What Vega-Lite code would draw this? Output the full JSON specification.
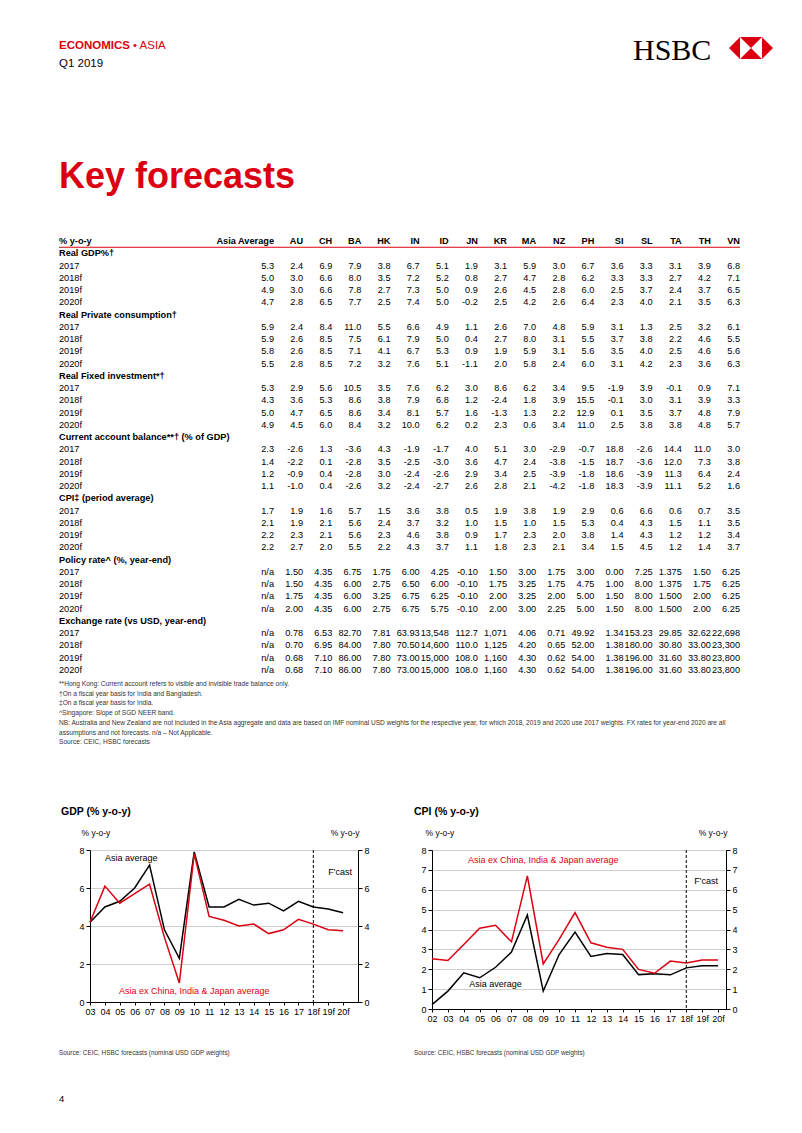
{
"$schema": "https://vega.github.io/schema/vega-lite/v6.json",
"background": "white",
"padding": {"left": 58, "top": 36, "right": 0, "bottom": 0},
"bounds": "full",
"spacing": 0,
"config": {"font": "Liberation Sans", "view": {"stroke": null}, "concat": {"spacing": 0}},
"datasets": {
"cols": [{"c":"Asia Average"},{"c":"AU"},{"c":"CH"},{"c":"BA"},{"c":"HK"},{"c":"IN"},{"c":"ID"},{"c":"JN"},{"c":"KR"},{"c":"MA"},{"c":"NZ"},{"c":"PH"},{"c":"SI"},{"c":"SL"},{"c":"TA"},{"c":"TH"},{"c":"VN"}],
"tab": [
{"r":0,"label":"% y-o-y"},
{"r":1,"label":"Real GDP%†"},
{"r":2,"label":"2017","Asia Average":"5.3","AU":"2.4","CH":"6.9","BA":"7.9","HK":"3.8","IN":"6.7","ID":"5.1","JN":"1.9","KR":"3.1","MA":"5.9","NZ":"3.0","PH":"6.7","SI":"3.6","SL":"3.3","TA":"3.1","TH":"3.9","VN":"6.8"},
{"r":3,"label":"2018f","Asia Average":"5.0","AU":"3.0","CH":"6.6","BA":"8.0","HK":"3.5","IN":"7.2","ID":"5.2","JN":"0.8","KR":"2.7","MA":"4.7","NZ":"2.8","PH":"6.2","SI":"3.3","SL":"3.3","TA":"2.7","TH":"4.2","VN":"7.1"},
{"r":4,"label":"2019f","Asia Average":"4.9","AU":"3.0","CH":"6.6","BA":"7.8","HK":"2.7","IN":"7.3","ID":"5.0","JN":"0.9","KR":"2.6","MA":"4.5","NZ":"2.8","PH":"6.0","SI":"2.5","SL":"3.7","TA":"2.4","TH":"3.7","VN":"6.5"},
{"r":5,"label":"2020f","Asia Average":"4.7","AU":"2.8","CH":"6.5","BA":"7.7","HK":"2.5","IN":"7.4","ID":"5.0","JN":"-0.2","KR":"2.5","MA":"4.2","NZ":"2.6","PH":"6.4","SI":"2.3","SL":"4.0","TA":"2.1","TH":"3.5","VN":"6.3"},
{"r":6,"label":"Real Private consumption†"},
{"r":7,"label":"2017","Asia Average":"5.9","AU":"2.4","CH":"8.4","BA":"11.0","HK":"5.5","IN":"6.6","ID":"4.9","JN":"1.1","KR":"2.6","MA":"7.0","NZ":"4.8","PH":"5.9","SI":"3.1","SL":"1.3","TA":"2.5","TH":"3.2","VN":"6.1"},
{"r":8,"label":"2018f","Asia Average":"5.9","AU":"2.6","CH":"8.5","BA":"7.5","HK":"6.1","IN":"7.9","ID":"5.0","JN":"0.4","KR":"2.7","MA":"8.0","NZ":"3.1","PH":"5.5","SI":"3.7","SL":"3.8","TA":"2.2","TH":"4.6","VN":"5.5"},
{"r":9,"label":"2019f","Asia Average":"5.8","AU":"2.6","CH":"8.5","BA":"7.1","HK":"4.1","IN":"6.7","ID":"5.3","JN":"0.9","KR":"1.9","MA":"5.9","NZ":"3.1","PH":"5.6","SI":"3.5","SL":"4.0","TA":"2.5","TH":"4.6","VN":"5.6"},
{"r":10,"label":"2020f","Asia Average":"5.5","AU":"2.8","CH":"8.5","BA":"7.2","HK":"3.2","IN":"7.6","ID":"5.1","JN":"-1.1","KR":"2.0","MA":"5.8","NZ":"2.4","PH":"6.0","SI":"3.1","SL":"4.2","TA":"2.3","TH":"3.6","VN":"6.3"},
{"r":11,"label":"Real Fixed investment*†"},
{"r":12,"label":"2017","Asia Average":"5.3","AU":"2.9","CH":"5.6","BA":"10.5","HK":"3.5","IN":"7.6","ID":"6.2","JN":"3.0","KR":"8.6","MA":"6.2","NZ":"3.4","PH":"9.5","SI":"-1.9","SL":"3.9","TA":"-0.1","TH":"0.9","VN":"7.1"},
{"r":13,"label":"2018f","Asia Average":"4.3","AU":"3.6","CH":"5.3","BA":"8.6","HK":"3.8","IN":"7.9","ID":"6.8","JN":"1.2","KR":"-2.4","MA":"1.8","NZ":"3.9","PH":"15.5","SI":"-0.1","SL":"3.0","TA":"3.1","TH":"3.9","VN":"3.3"},
{"r":14,"label":"2019f","Asia Average":"5.0","AU":"4.7","CH":"6.5","BA":"8.6","HK":"3.4","IN":"8.1","ID":"5.7","JN":"1.6","KR":"-1.3","MA":"1.3","NZ":"2.2","PH":"12.9","SI":"0.1","SL":"3.5","TA":"3.7","TH":"4.8","VN":"7.9"},
{"r":15,"label":"2020f","Asia Average":"4.9","AU":"4.5","CH":"6.0","BA":"8.4","HK":"3.2","IN":"10.0","ID":"6.2","JN":"0.2","KR":"2.3","MA":"0.6","NZ":"3.4","PH":"11.0","SI":"2.5","SL":"3.8","TA":"3.8","TH":"4.8","VN":"5.7"},
{"r":16,"label":"Current account balance**† (% of GDP)"},
{"r":17,"label":"2017","Asia Average":"2.3","AU":"-2.6","CH":"1.3","BA":"-3.6","HK":"4.3","IN":"-1.9","ID":"-1.7","JN":"4.0","KR":"5.1","MA":"3.0","NZ":"-2.9","PH":"-0.7","SI":"18.8","SL":"-2.6","TA":"14.4","TH":"11.0","VN":"3.0"},
{"r":18,"label":"2018f","Asia Average":"1.4","AU":"-2.2","CH":"0.1","BA":"-2.8","HK":"3.5","IN":"-2.5","ID":"-3.0","JN":"3.6","KR":"4.7","MA":"2.4","NZ":"-3.8","PH":"-1.5","SI":"18.7","SL":"-3.6","TA":"12.0","TH":"7.3","VN":"3.8"},
{"r":19,"label":"2019f","Asia Average":"1.2","AU":"-0.9","CH":"0.4","BA":"-2.8","HK":"3.0","IN":"-2.4","ID":"-2.6","JN":"2.9","KR":"3.4","MA":"2.5","NZ":"-3.9","PH":"-1.8","SI":"18.6","SL":"-3.9","TA":"11.3","TH":"6.4","VN":"2.4"},
{"r":20,"label":"2020f","Asia Average":"1.1","AU":"-1.0","CH":"0.4","BA":"-2.6","HK":"3.2","IN":"-2.4","ID":"-2.7","JN":"2.6","KR":"2.8","MA":"2.1","NZ":"-4.2","PH":"-1.8","SI":"18.3","SL":"-3.9","TA":"11.1","TH":"5.2","VN":"1.6"},
{"r":21,"label":"CPI‡ (period average)"},
{"r":22,"label":"2017","Asia Average":"1.7","AU":"1.9","CH":"1.6","BA":"5.7","HK":"1.5","IN":"3.6","ID":"3.8","JN":"0.5","KR":"1.9","MA":"3.8","NZ":"1.9","PH":"2.9","SI":"0.6","SL":"6.6","TA":"0.6","TH":"0.7","VN":"3.5"},
{"r":23,"label":"2018f","Asia Average":"2.1","AU":"1.9","CH":"2.1","BA":"5.6","HK":"2.4","IN":"3.7","ID":"3.2","JN":"1.0","KR":"1.5","MA":"1.0","NZ":"1.5","PH":"5.3","SI":"0.4","SL":"4.3","TA":"1.5","TH":"1.1","VN":"3.5"},
{"r":24,"label":"2019f","Asia Average":"2.2","AU":"2.3","CH":"2.1","BA":"5.6","HK":"2.3","IN":"4.6","ID":"3.8","JN":"0.9","KR":"1.7","MA":"2.3","NZ":"2.0","PH":"3.8","SI":"1.4","SL":"4.3","TA":"1.2","TH":"1.2","VN":"3.4"},
{"r":25,"label":"2020f","Asia Average":"2.2","AU":"2.7","CH":"2.0","BA":"5.5","HK":"2.2","IN":"4.3","ID":"3.7","JN":"1.1","KR":"1.8","MA":"2.3","NZ":"2.1","PH":"3.4","SI":"1.5","SL":"4.5","TA":"1.2","TH":"1.4","VN":"3.7"},
{"r":26,"label":"Policy rate^ (%, year-end)"},
{"r":27,"label":"2017","Asia Average":"n/a","AU":"1.50","CH":"4.35","BA":"6.75","HK":"1.75","IN":"6.00","ID":"4.25","JN":"-0.10","KR":"1.50","MA":"3.00","NZ":"1.75","PH":"3.00","SI":"0.00","SL":"7.25","TA":"1.375","TH":"1.50","VN":"6.25"},
{"r":28,"label":"2018f","Asia Average":"n/a","AU":"1.50","CH":"4.35","BA":"6.00","HK":"2.75","IN":"6.50","ID":"6.00","JN":"-0.10","KR":"1.75","MA":"3.25","NZ":"1.75","PH":"4.75","SI":"1.00","SL":"8.00","TA":"1.375","TH":"1.75","VN":"6.25"},
{"r":29,"label":"2019f","Asia Average":"n/a","AU":"1.75","CH":"4.35","BA":"6.00","HK":"3.25","IN":"6.75","ID":"6.25","JN":"-0.10","KR":"2.00","MA":"3.25","NZ":"2.00","PH":"5.00","SI":"1.50","SL":"8.00","TA":"1.500","TH":"2.00","VN":"6.25"},
{"r":30,"label":"2020f","Asia Average":"n/a","AU":"2.00","CH":"4.35","BA":"6.00","HK":"2.75","IN":"6.75","ID":"5.75","JN":"-0.10","KR":"2.00","MA":"3.00","NZ":"2.25","PH":"5.00","SI":"1.50","SL":"8.00","TA":"1.500","TH":"2.00","VN":"6.25"},
{"r":31,"label":"Exchange rate (vs USD, year-end)"},
{"r":32,"label":"2017","Asia Average":"n/a","AU":"0.78","CH":"6.53","BA":"82.70","HK":"7.81","IN":"63.93","ID":"13,548","JN":"112.7","KR":"1,071","MA":"4.06","NZ":"0.71","PH":"49.92","SI":"1.34","SL":"153.23","TA":"29.85","TH":"32.62","VN":"22,698"},
{"r":33,"label":"2018f","Asia Average":"n/a","AU":"0.70","CH":"6.95","BA":"84.00","HK":"7.80","IN":"70.50","ID":"14,600","JN":"110.0","KR":"1,125","MA":"4.20","NZ":"0.65","PH":"52.00","SI":"1.38","SL":"180.00","TA":"30.80","TH":"33.00","VN":"23,300"},
{"r":34,"label":"2019f","Asia Average":"n/a","AU":"0.68","CH":"7.10","BA":"86.00","HK":"7.80","IN":"73.00","ID":"15,000","JN":"108.0","KR":"1,160","MA":"4.30","NZ":"0.62","PH":"54.00","SI":"1.38","SL":"196.00","TA":"31.60","TH":"33.80","VN":"23,800"},
{"r":35,"label":"2020f","Asia Average":"n/a","AU":"0.68","CH":"7.10","BA":"86.00","HK":"7.80","IN":"73.00","ID":"15,000","JN":"108.0","KR":"1,160","MA":"4.30","NZ":"0.62","PH":"54.00","SI":"1.38","SL":"196.00","TA":"31.60","TH":"33.80","VN":"23,800"}
],
"foot": [
{"i":1,"t":"**Hong Kong: Current account refers to visible and invisible trade balance only."},
{"i":2,"t":"†On a fiscal year basis for India and Bangladesh."},
{"i":3,"t":"‡On a fiscal year basis for India."},
{"i":4,"t":"^Singapore: Slope of SGD NEER band."},
{"i":5,"t":"NB: Australia and New Zealand are not included in the Asia aggregate and data are based on IMF nominal USD weights for the respective year, for which 2018, 2019 and 2020 use 2017 weights. FX rates for year-end 2020 are all"},
{"i":6,"t":"assumptions and not forecasts. n/a – Not Applicable."},
{"i":7,"t":"Source: CEIC, HSBC forecasts"}
],
"gdp": [
{"yr":"03","s":"Asia average","v":4.2},{"yr":"04","s":"Asia average","v":5.0},{"yr":"05","s":"Asia average","v":5.3},{"yr":"06","s":"Asia average","v":6.0},{"yr":"07","s":"Asia average","v":7.2},{"yr":"08","s":"Asia average","v":3.8},{"yr":"09","s":"Asia average","v":2.3},{"yr":"10","s":"Asia average","v":7.9},{"yr":"11","s":"Asia average","v":5.0},{"yr":"12","s":"Asia average","v":5.0},{"yr":"13","s":"Asia average","v":5.4},{"yr":"14","s":"Asia average","v":5.1},{"yr":"15","s":"Asia average","v":5.2},{"yr":"16","s":"Asia average","v":4.8},{"yr":"17","s":"Asia average","v":5.3},{"yr":"18f","s":"Asia average","v":5.0},{"yr":"19f","s":"Asia average","v":4.9},{"yr":"20f","s":"Asia average","v":4.7},
{"yr":"03","s":"Asia ex CIJ","v":4.2},{"yr":"04","s":"Asia ex CIJ","v":6.1},{"yr":"05","s":"Asia ex CIJ","v":5.2},{"yr":"06","s":"Asia ex CIJ","v":5.7},{"yr":"07","s":"Asia ex CIJ","v":6.2},{"yr":"08","s":"Asia ex CIJ","v":3.4},{"yr":"09","s":"Asia ex CIJ","v":1.0},{"yr":"10","s":"Asia ex CIJ","v":7.8},{"yr":"11","s":"Asia ex CIJ","v":4.5},{"yr":"12","s":"Asia ex CIJ","v":4.3},{"yr":"13","s":"Asia ex CIJ","v":4.0},{"yr":"14","s":"Asia ex CIJ","v":4.1},{"yr":"15","s":"Asia ex CIJ","v":3.6},{"yr":"16","s":"Asia ex CIJ","v":3.8},{"yr":"17","s":"Asia ex CIJ","v":4.35},{"yr":"18f","s":"Asia ex CIJ","v":4.1},{"yr":"19f","s":"Asia ex CIJ","v":3.8},{"yr":"20f","s":"Asia ex CIJ","v":3.75}
],
"cpi": [
{"yr":"02","s":"Asia average","v":0.22},{"yr":"03","s":"Asia average","v":0.9},{"yr":"04","s":"Asia average","v":1.82},{"yr":"05","s":"Asia average","v":1.57},{"yr":"06","s":"Asia average","v":2.1},{"yr":"07","s":"Asia average","v":2.86},{"yr":"08","s":"Asia average","v":4.73},{"yr":"09","s":"Asia average","v":0.9},{"yr":"10","s":"Asia average","v":2.74},{"yr":"11","s":"Asia average","v":3.87},{"yr":"12","s":"Asia average","v":2.64},{"yr":"13","s":"Asia average","v":2.79},{"yr":"14","s":"Asia average","v":2.74},{"yr":"15","s":"Asia average","v":1.73},{"yr":"16","s":"Asia average","v":1.77},{"yr":"17","s":"Asia average","v":1.72},{"yr":"18f","s":"Asia average","v":2.07},{"yr":"19f","s":"Asia average","v":2.17},{"yr":"20f","s":"Asia average","v":2.17},
{"yr":"02","s":"Asia ex CIJ","v":2.53},{"yr":"03","s":"Asia ex CIJ","v":2.44},{"yr":"04","s":"Asia ex CIJ","v":3.25},{"yr":"05","s":"Asia ex CIJ","v":4.06},{"yr":"06","s":"Asia ex CIJ","v":4.21},{"yr":"07","s":"Asia ex CIJ","v":3.38},{"yr":"08","s":"Asia ex CIJ","v":6.7},{"yr":"09","s":"Asia ex CIJ","v":2.27},{"yr":"10","s":"Asia ex CIJ","v":3.5},{"yr":"11","s":"Asia ex CIJ","v":4.85},{"yr":"12","s":"Asia ex CIJ","v":3.33},{"yr":"13","s":"Asia ex CIJ","v":3.11},{"yr":"14","s":"Asia ex CIJ","v":3.0},{"yr":"15","s":"Asia ex CIJ","v":1.99},{"yr":"16","s":"Asia ex CIJ","v":1.8},{"yr":"17","s":"Asia ex CIJ","v":2.41},{"yr":"18f","s":"Asia ex CIJ","v":2.32},{"yr":"19f","s":"Asia ex CIJ","v":2.46},{"yr":"20f","s":"Asia ex CIJ","v":2.47}
]
},
"vconcat": [
{
"hconcat": [
{
"width": 74, "height": 22,
"data": {"values": [{"t":"ECONOMICS","c":"a","l":"1"},{"t":"• ASIA","c":"b","l":"1"},{"t":"Q1 2019","c":"a","l":"2"}]},
"encoding": {
"x": {"field": "c", "type": "nominal", "scale": {"type": "point", "domain": ["a","b"], "padding": 0}, "axis": null},
"y": {"field": "l", "type": "nominal", "scale": {"type": "point", "domain": ["1","2"], "padding": 0.111, "align": 1}, "axis": null},
"text": {"field": "t"}
},
"layer": [
{"transform": [{"filter": "datum.t == 'ECONOMICS'"}], "mark": {"type": "text", "align": "left", "baseline": "top", "fontSize": 11.5, "fontWeight": "bold", "color": "#DB0011"}},
{"transform": [{"filter": "datum.t == '• ASIA'"}], "mark": {"type": "text", "align": "left", "baseline": "top", "fontSize": 11.5, "color": "#DB0011"}},
{"transform": [{"filter": "datum.t == 'Q1 2019'"}], "mark": {"type": "text", "align": "left", "baseline": "top", "fontSize": 11.5, "color": "#000000"}}
]
},
{
"hconcat": [
{
"width": 96, "height": 24,
"data": {"values": [{"t": "HSBC"}]},
"mark": {"type": "text", "align": "left", "baseline": "top", "font": "Liberation Serif", "fontSize": 30, "color": "#000000"},
"encoding": {
"x": {"datum": 0, "type": "quantitative", "scale": {"domain": [0, 1]}, "axis": null},
"y": {"datum": 1, "type": "quantitative", "scale": {"domain": [0, 1]}, "axis": null},
"text": {"field": "t"}
}
},
{
"width": 44, "height": 123,
"data": {"values": [{"t": "logo"}]},
"mark": {"type": "point", "shape": "M0,0.55L0.5,0.05L0.5,1.05Z M2,0.55L1.5,0.05L1.5,1.05Z M0.5,0.05L1.5,0.05L1,0.55Z M0.5,1.05L1.5,1.05L1,0.55Z", "size": 1936, "filled": true, "color": "#DB0011", "opacity": 1, "strokeWidth": 0},
"encoding": {
"x": {"datum": 0, "type": "quantitative", "scale": {"domain": [0, 1]}, "axis": null},
"y": {"datum": 1, "type": "quantitative", "scale": {"domain": [0, 1]}, "axis": null}
}
}
],
"spacing": 0, "bounds": "flush"
}
],
"spacing": 500, "bounds": "flush"
},
{
"width": 300, "height": 75,
"data": {"values": [{"t": "Key forecasts"}]},
"mark": {"type": "text", "align": "left", "baseline": "top", "fontSize": 36, "fontWeight": "bold", "color": "#DB0011"},
"encoding": {
"x": {"datum": 0, "type": "quantitative", "scale": {"domain": [0, 1]}, "axis": null},
"y": {"datum": 1, "type": "quantitative", "scale": {"domain": [0, 1]}, "axis": null},
"text": {"field": "t"}
}
},
{
"hconcat": [
{
"width": 215, "height": 441,
"layer": [
{"data": {"name": "tab"}, "transform": [{"filter": "!isValid(datum.AU)"}],
"mark": {"type": "text", "align": "left", "baseline": "middle", "fontSize": 9.2, "fontWeight": "bold", "color": "#000000"},
"encoding": {
"x": {"datum": 0, "type": "quantitative", "scale": {"domain": [0, 1]}, "axis": null},
"y": {"field": "r", "type": "ordinal", "scale": {"type": "band", "domain": [0,1,2,3,4,5,6,7,8,9,10,11,12,13,14,15,16,17,18,19,20,21,22,23,24,25,26,27,28,29,30,31,32,33,34,35], "paddingInner": 0, "paddingOuter": 0}, "axis": null},
"text": {"field": "label"}}},
{"data": {"name": "tab"}, "transform": [{"filter": "isValid(datum.AU)"}],
"mark": {"type": "text", "align": "left", "baseline": "middle", "fontSize": 9.2, "color": "#000000"},
"encoding": {
"x": {"datum": 0, "type": "quantitative", "scale": {"domain": [0, 1]}, "axis": null},
"y": {"field": "r", "type": "ordinal", "scale": {"type": "band", "domain": [0,1,2,3,4,5,6,7,8,9,10,11,12,13,14,15,16,17,18,19,20,21,22,23,24,25,26,27,28,29,30,31,32,33,34,35], "paddingInner": 0, "paddingOuter": 0}, "axis": null},
"text": {"field": "label"}}},
{"data": {"values": [{}]},
"mark": {"type": "rule", "color": "#DB0011", "strokeWidth": 1},
"encoding": {
"y": {"datum": 1, "type": "ordinal", "bandPosition": 0, "scale": {"type": "band", "domain": [0,1,2,3,4,5,6,7,8,9,10,11,12,13,14,15,16,17,18,19,20,21,22,23,24,25,26,27,28,29,30,31,32,33,34,35], "paddingInner": 0, "paddingOuter": 0}, "axis": null}}}
]
},
{
"width": 466, "height": 441,
"layer": [
{"data": {"name": "cols"},
"mark": {"type": "text", "align": "right", "baseline": "middle", "fontSize": 9.2, "fontWeight": "bold", "color": "#000000"},
"encoding": {
"x": {"field": "c", "type": "nominal", "scale": {"type": "point", "domain": ["Asia Average","AU","CH","BA","HK","IN","ID","JN","KR","MA","NZ","PH","SI","SL","TA","TH","VN"], "padding": 0}, "axis": null},
"y": {"datum": 0, "type": "ordinal", "scale": {"type": "band", "domain": [0,1,2,3,4,5,6,7,8,9,10,11,12,13,14,15,16,17,18,19,20,21,22,23,24,25,26,27,28,29,30,31,32,33,34,35], "paddingInner": 0, "paddingOuter": 0}, "axis": null},
"text": {"field": "c"}}},
{"data": {"name": "tab"},
"transform": [{"fold": ["Asia Average","AU","CH","BA","HK","IN","ID","JN","KR","MA","NZ","PH","SI","SL","TA","TH","VN"], "as": ["c", "v"]}, {"filter": "isValid(datum.v)"}],
"mark": {"type": "text", "align": "right", "baseline": "middle", "fontSize": 9.2, "color": "#000000"},
"encoding": {
"x": {"field": "c", "type": "nominal", "scale": {"type": "point", "domain": ["Asia Average","AU","CH","BA","HK","IN","ID","JN","KR","MA","NZ","PH","SI","SL","TA","TH","VN"], "padding": 0}, "axis": null},
"y": {"field": "r", "type": "ordinal", "scale": {"type": "band", "domain": [0,1,2,3,4,5,6,7,8,9,10,11,12,13,14,15,16,17,18,19,20,21,22,23,24,25,26,27,28,29,30,31,32,33,34,35], "paddingInner": 0, "paddingOuter": 0}, "axis": null},
"text": {"field": "v"}}},
{"data": {"values": [{}]},
"mark": {"type": "rule", "color": "#DB0011", "strokeWidth": 1},
"encoding": {
"y": {"datum": 1, "type": "ordinal", "bandPosition": 0, "scale": {"type": "band", "domain": [0,1,2,3,4,5,6,7,8,9,10,11,12,13,14,15,16,17,18,19,20,21,22,23,24,25,26,27,28,29,30,31,32,33,34,35], "paddingInner": 0, "paddingOuter": 0}, "axis": null}}}
]
}
],
"spacing": 0, "bounds": "flush"
},
{
"width": 690, "height": 74.4,
"data": {"name": "foot"},
"mark": {"type": "text", "align": "left", "baseline": "middle", "fontSize": 6.6, "color": "#333333"},
"encoding": {
"x": {"datum": 0, "type": "quantitative", "scale": {"domain": [0, 1]}, "axis": null},
"y": {"field": "i", "type": "ordinal", "scale": {"type": "band", "domain": [1,2,3,4,5,6,7], "paddingInner": 0, "paddingOuter": 0.335}, "axis": null},
"text": {"field": "t"}
}
},
{"width": 10, "height": 55, "data": {"values": []}, "mark": {"type": "point", "opacity": 0}},
{
"hconcat": [
{"width": 31, "height": 1, "data": {"values": []}, "mark": {"type": "point", "opacity": 0}},
{
"width": 268, "height": 152,
"title": {"text": "GDP (% y-o-y)", "anchor": "start", "frame": "group", "dx": -29, "offset": 1, "baseline": "bottom", "fontSize": 10.5, "fontWeight": "bold", "color": "#000000"},
"layer": [
{"data": {"name": "gdp"},
"mark": {"type": "line", "strokeWidth": 1.5},
"encoding": {
"x": {"field": "yr", "type": "ordinal", "scale": {"type": "point", "domain": ["03","04","05","06","07","08","09","10","11","12","13","14","15","16","17","18f","19f","20f"], "padding": 0.5, "align": 0},
"axis": {"title": null, "labelAngle": 0, "labelFontSize": 9, "labelColor": "#000000", "labelPadding": 2, "labelOverlap": false, "domainColor": "#000000", "tickColor": "#000000", "tickSize": 3, "grid": false}},
"y": {"field": "v", "type": "quantitative", "scale": {"domain": [0, 8], "nice": false},
"axis": {"orient": "left", "values": [0,2,4,6,8], "grid": true, "gridColor": "#cfcfcf", "domainColor": "#000000", "tickColor": "#000000", "tickSize": 4, "labelFontSize": 9, "labelColor": "#000000", "labelPadding": 2, "title": "% y-o-y", "titleAngle": 0, "titleAlign": "left", "titleBaseline": "middle", "titleX": -9, "titleY": -18, "titleFontSize": 8.5, "titleFontWeight": "normal", "titleColor": "#000000"}},
"color": {"field": "s", "type": "nominal", "scale": {"domain": ["Asia average", "Asia ex CIJ"], "range": ["#000000", "#DB0011"]}, "legend": null}
}},
{"data": {"values": [{}]},
"mark": {"type": "rule", "strokeDash": [3, 2], "color": "#000000", "strokeWidth": 1},
"encoding": {"x": {"datum": "18f", "type": "ordinal", "scale": {"type": "point", "domain": ["03","04","05","06","07","08","09","10","11","12","13","14","15","16","17","18f","19f","20f"], "padding": 0.5, "align": 0}}}},
{"data": {"values": [{}]},
"mark": {"type": "text", "text": "Asia average", "align": "left", "baseline": "middle", "fontSize": 9, "color": "#000000"},
"encoding": {
"x": {"datum": "04", "type": "ordinal", "scale": {"type": "point", "domain": ["03","04","05","06","07","08","09","10","11","12","13","14","15","16","17","18f","19f","20f"], "padding": 0.5, "align": 0}},
"y": {"datum": 7.6, "type": "quantitative", "scale": {"domain": [0, 8], "nice": false}, "axis": null}}},
{"data": {"values": [{}]},
"mark": {"type": "text", "text": "Asia ex China,  India & Japan average", "align": "center", "baseline": "middle", "fontSize": 9, "color": "#DB0011"},
"encoding": {
"x": {"datum": "10", "type": "ordinal", "scale": {"type": "point", "domain": ["03","04","05","06","07","08","09","10","11","12","13","14","15","16","17","18f","19f","20f"], "padding": 0.5, "align": 0}},
"y": {"datum": 0.57, "type": "quantitative", "scale": {"domain": [0, 8], "nice": false}, "axis": null}}},
{"data": {"values": [{}]},
"mark": {"type": "text", "text": "F'cast", "align": "left", "baseline": "middle", "fontSize": 9, "color": "#000000"},
"encoding": {
"x": {"datum": "19f", "type": "ordinal", "scale": {"type": "point", "domain": ["03","04","05","06","07","08","09","10","11","12","13","14","15","16","17","18f","19f","20f"], "padding": 0.5, "align": 0}},
"y": {"datum": 6.85, "type": "quantitative", "scale": {"domain": [0, 8], "nice": false},
"axis": {"orient": "right", "values": [0,2,4,6,8], "grid": false, "domainColor": "#000000", "tickColor": "#000000", "tickSize": 4, "labelFontSize": 9, "labelColor": "#000000", "labelPadding": 2, "title": "% y-o-y", "titleAngle": 0, "titleAlign": "right", "titleBaseline": "middle", "titleX": 1, "titleY": -18, "titleFontSize": 8.5, "titleFontWeight": "normal", "titleColor": "#000000"}}}}
],
"resolve": {"axis": {"y": "independent"}}
},
{"width": 74, "height": 1, "data": {"values": []}, "mark": {"type": "point", "opacity": 0}},
{
"width": 294, "height": 159,
"title": {"text": "CPI (% y-o-y)", "anchor": "start", "frame": "group", "dx": -18, "offset": 1, "baseline": "bottom", "fontSize": 10.5, "fontWeight": "bold", "color": "#000000"},
"layer": [
{"data": {"name": "cpi"},
"mark": {"type": "line", "strokeWidth": 1.5},
"encoding": {
"x": {"field": "yr", "type": "ordinal", "scale": {"type": "point", "domain": ["02","03","04","05","06","07","08","09","10","11","12","13","14","15","16","17","18f","19f","20f"], "padding": 0.25, "align": 0},
"axis": {"title": null, "labelAngle": 0, "labelFontSize": 9, "labelColor": "#000000", "labelPadding": 2, "labelOverlap": false, "domainColor": "#000000", "tickColor": "#000000", "tickSize": 3, "grid": false}},
"y": {"field": "v", "type": "quantitative", "scale": {"domain": [0, 8], "nice": false},
"axis": {"orient": "left", "values": [0,1,2,3,4,5,6,7,8], "grid": true, "gridColor": "#cfcfcf", "domainColor": "#000000", "tickColor": "#000000", "tickSize": 4, "labelFontSize": 9, "labelColor": "#000000", "labelPadding": 2, "title": "% y-o-y", "titleAngle": 0, "titleAlign": "left", "titleBaseline": "middle", "titleX": -7, "titleY": -18, "titleFontSize": 8.5, "titleFontWeight": "normal", "titleColor": "#000000"}},
"color": {"field": "s", "type": "nominal", "scale": {"domain": ["Asia average", "Asia ex CIJ"], "range": ["#000000", "#DB0011"]}, "legend": null}
}},
{"data": {"values": [{}]},
"mark": {"type": "rule", "strokeDash": [3, 2], "color": "#000000", "strokeWidth": 1},
"encoding": {"x": {"datum": "18f", "type": "ordinal", "scale": {"type": "point", "domain": ["02","03","04","05","06","07","08","09","10","11","12","13","14","15","16","17","18f","19f","20f"], "padding": 0.25, "align": 0}}}},
{"data": {"values": [{}]},
"mark": {"type": "text", "text": "Asia ex China, India & Japan average", "align": "center", "baseline": "middle", "fontSize": 9, "color": "#DB0011"},
"encoding": {
"x": {"datum": "09", "type": "ordinal", "scale": {"type": "point", "domain": ["02","03","04","05","06","07","08","09","10","11","12","13","14","15","16","17","18f","19f","20f"], "padding": 0.25, "align": 0}},
"y": {"datum": 7.5, "type": "quantitative", "scale": {"domain": [0, 8], "nice": false}, "axis": null}}},
{"data": {"values": [{}]},
"mark": {"type": "text", "text": "Asia average", "align": "center", "baseline": "middle", "fontSize": 9, "color": "#000000"},
"encoding": {
"x": {"datum": "06", "type": "ordinal", "scale": {"type": "point", "domain": ["02","03","04","05","06","07","08","09","10","11","12","13","14","15","16","17","18f","19f","20f"], "padding": 0.25, "align": 0}},
"y": {"datum": 1.28, "type": "quantitative", "scale": {"domain": [0, 8], "nice": false}, "axis": null}}},
{"data": {"values": [{}]},
"mark": {"type": "text", "text": "F'cast", "align": "right", "baseline": "middle", "fontSize": 9, "color": "#000000"},
"encoding": {
"x": {"datum": "20f", "type": "ordinal", "scale": {"type": "point", "domain": ["02","03","04","05","06","07","08","09","10","11","12","13","14","15","16","17","18f","19f","20f"], "padding": 0.25, "align": 0}},
"y": {"datum": 6.45, "type": "quantitative", "scale": {"domain": [0, 8], "nice": false},
"axis": {"orient": "right", "values": [0,1,2,3,4,5,6,7,8], "grid": false, "domainColor": "#000000", "tickColor": "#000000", "tickSize": 4, "labelFontSize": 9, "labelColor": "#000000", "labelPadding": 2, "title": "% y-o-y", "titleAngle": 0, "titleAlign": "right", "titleBaseline": "middle", "titleX": 1, "titleY": -18, "titleFontSize": 8.5, "titleFontWeight": "normal", "titleColor": "#000000"}}}}
],
"resolve": {"axis": {"y": "independent"}}
}
],
"spacing": 0, "bounds": "flush"
},
{"width": 10, "height": 27, "data": {"values": []}, "mark": {"type": "point", "opacity": 0}},
{
"hconcat": [
{
"width": 355, "height": 44,
"data": {"values": [{"t": "Source: CEIC, HSBC forecasts (nominal USD GDP weights)"}]},
"mark": {"type": "text", "align": "left", "baseline": "top", "fontSize": 6.4, "color": "#333333"},
"encoding": {
"x": {"datum": 0, "type": "quantitative", "scale": {"domain": [0, 1]}, "axis": null},
"y": {"datum": 1, "type": "quantitative", "scale": {"domain": [0, 1]}, "axis": null},
"text": {"field": "t"}
}
},
{
"width": 300, "height": 44,
"data": {"values": [{"t": "Source: CEIC, HSBC forecasts (nominal USD GDP weights)"}]},
"mark": {"type": "text", "align": "left", "baseline": "top", "fontSize": 6.4, "color": "#333333"},
"encoding": {
"x": {"datum": 0, "type": "quantitative", "scale": {"domain": [0, 1]}, "axis": null},
"y": {"datum": 1, "type": "quantitative", "scale": {"domain": [0, 1]}, "axis": null},
"text": {"field": "t"}
}
}
],
"spacing": 0, "bounds": "flush"
},
{
"width": 20, "height": 12,
"data": {"values": [{"t": "4"}]},
"mark": {"type": "text", "align": "left", "baseline": "top", "fontSize": 9.5, "color": "#000000"},
"encoding": {
"x": {"datum": 0, "type": "quantitative", "scale": {"domain": [0, 1]}, "axis": null},
"y": {"datum": 1, "type": "quantitative", "scale": {"domain": [0, 1]}, "axis": null},
"text": {"field": "t"}
}
}
]
}
